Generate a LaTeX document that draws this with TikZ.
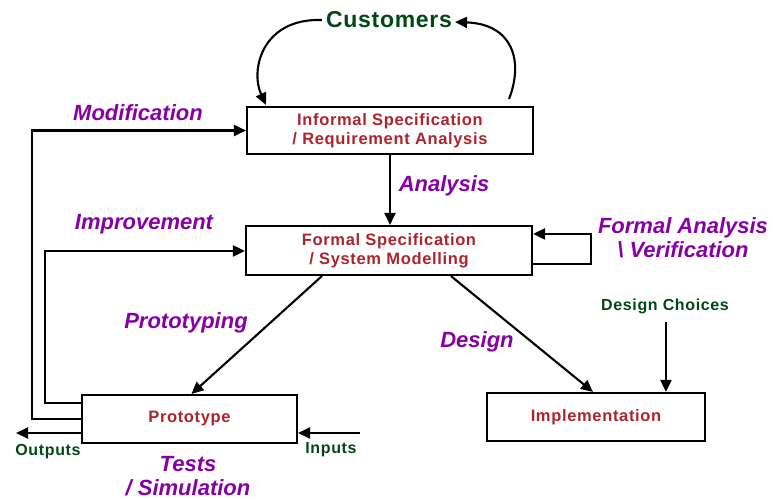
\documentclass[tikz,border=0pt]{standalone}
\usepackage{fontspec}
\setmainfont{Liberation Sans}
\newfontfamily\boxfont[LetterSpace=4]{Liberation Sans}
\newfontfamily\custfont[LetterSpace=3]{Liberation Sans}
\usetikzlibrary{calc,arrows.meta}
\definecolor{labpurple}{RGB}{135,0,165}
\definecolor{boxred}{RGB}{172,36,44}
\definecolor{ioGreen}{RGB}{0,72,20}
\begin{document}
\begin{tikzpicture}[x=1pt,y=-1pt,
  procbox/.style={draw=black,line width=2.1pt,fill=white,inner sep=0pt,
    align=center,text=boxred,font=\boxfont\bfseries\fontsize{16.5}{19}\selectfont},
  steplabel/.style={text=labpurple,align=center,inner sep=0pt,
    font=\bfseries\itshape\fontsize{22}{24}\selectfont},
  iolabel/.style={text=ioGreen,inner sep=0pt,
    font=\boxfont\bfseries\fontsize{16}{18}\selectfont},
  arr/.style={line width=2.1pt,-{Triangle[length=12pt,width=11pt]}}]
\useasboundingbox (0,0) rectangle (773,500);

% process boxes
\node[procbox,minimum width=286pt,minimum height=47pt] (info) at (390,130.5)
  {Informal Specification\\/ Requirement Analysis};
\node[procbox,minimum width=286pt,minimum height=49pt] (formal) at (389,250.5)
  {Formal Specification\\/ System Modelling};
\node[procbox,minimum width=215pt,minimum height=48pt] (proto) at (189.5,419)
  {Prototype};
\node[procbox,minimum width=218pt,minimum height=48pt] (impl) at (596,417)
  {Implementation};

% free texts
\node[text=ioGreen,inner sep=0pt,font=\custfont\bfseries\fontsize{23}{25}\selectfont]
  (cust) at (389,20) {Customers};
\node[steplabel] (lmod) at (138,113) {Modification};
\node[steplabel] (limp) at (144,224) {Improvement};
\node[steplabel] (lana) at (444,186) {Analysis};
\node[steplabel] (lproto) at (186,323) {Prototyping};
\node[steplabel] (ldes) at (477,342) {Design};
\node[steplabel] (lfav) at (683,237.5) {Formal Analysis\\\textbackslash{} Verification};
\node[steplabel] (ltest) at (188,476) {Tests\\/ Simulation};
\node[iolabel] (outl) at (48,452) {Outputs};
\node[iolabel] (inl) at (331,450) {Inputs};
\node[iolabel] (dc) at (665,306) {Design Choices};

% customer loop
\draw[arr] ($(cust.west)+(-4,0)$) .. controls (262,18) and (250,70) .. ($(info.north west)+(20,-1)$);
\draw[arr] ($(info.north east)+(-25,-7)$) .. controls (524,60) and (512,24) .. ($(cust.east)+(3,2)$);

% main flow
\draw[arr] (info.south) -- (info.south |- formal.north);
\draw[arr] ($(formal.south west)+(77,0)$) -- ($(proto.north)+(2,0)$);
\draw[arr] ($(formal.south west)+(206,0)$) -- ($(impl.north)+(-3,0)$);
\draw[arr] ($(impl.north west)+(180,-70)$) -- ($(impl.north west)+(180,0)$);

% self loop on the formal specification
\draw[arr] ($(formal.south east)+(0,-12)$) -- ++(58,0) |- ($(formal.north east)+(0,9)$);

% feedback from the prototype
\draw[arr] ($(proto.north west)+(0,25)$) -- ++(-49,0) |- (info.west);
\draw[arr] ($(proto.north west)+(0,9)$) -- ++(-36,0) |- ($(formal.north west)+(0,26)$);

% prototype inputs and outputs
\coordinate (outend) at (16,433);
\coordinate (instart) at (360,433);
\draw[arr] (outend -| proto.west) -- (outend);
\draw[arr] (instart) -- (instart -| proto.east);
\end{tikzpicture}
\end{document}
